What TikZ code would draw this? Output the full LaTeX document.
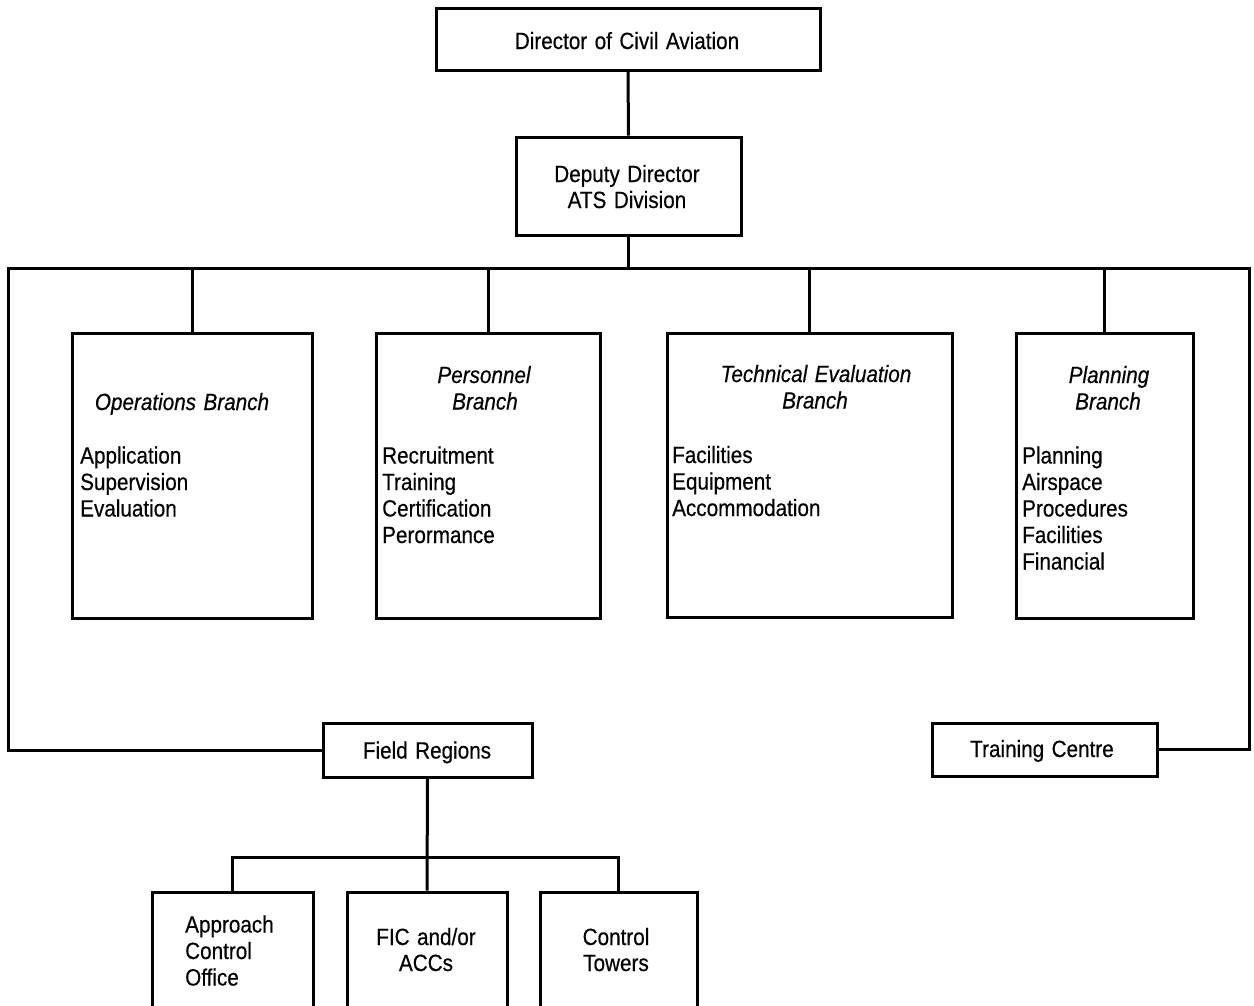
\documentclass[tikz,border=0pt]{standalone}
\usepackage{fontspec}
\setmainfont[FakeStretch=0.88, WordSpace=1.3, FakeBold=0.4]{Liberation Sans}
\begin{document}
\begin{tikzpicture}[x=1pt,y=-1pt,
  box/.style={draw, line width=3pt, rectangle, inner sep=0pt},
  lbl/.style={inner sep=0pt, font=\fontsize{23.5}{26}\selectfont},
  hd/.style={inner sep=0pt, font=\fontsize{23.5}{26}\selectfont\itshape},
  wire/.style={line width=3pt, line join=miter}]
\useasboundingbox (0,0) rectangle (1254,1005);
\clip (0,0) rectangle (1254,1005);

% boxes
\node[box, minimum width=384pt, minimum height=62pt] (dir) at (628,39) {};
\node[box, minimum width=225pt, minimum height=98pt] (dep) at (628.5,186) {};
\node[box, minimum width=240pt, minimum height=285pt] (ops) at (192,475.5) {};
\node[box, minimum width=224pt, minimum height=285pt] (pers) at (488,475.5) {};
\node[box, minimum width=285pt, minimum height=284pt] (tech) at (809.5,475) {};
\node[box, minimum width=177pt, minimum height=285pt] (plan) at (1104.5,475.5) {};
\node[box, minimum width=209pt, minimum height=54pt] (field) at (427.5,750) {};
\node[box, minimum width=225pt, minimum height=53pt] (train) at (1044.5,749.5) {};
\node[box, minimum width=161pt, minimum height=130pt] (appr) at (232.5,957) {};
\node[box, minimum width=160pt, minimum height=130pt] (fic) at (427,957) {};
\node[box, minimum width=157pt, minimum height=130pt] (ctrl) at (618.5,957) {};

% coordinates for buses
\coordinate (busL) at (8,268);
\coordinate (busR) at (1249,268);
\coordinate (fbus) at (427,857);

% connectors
\draw[wire] (dir.south) -- (dep.north);
\draw[wire] (dep.south) -- (dep.south |- busL);
\draw[wire] (field.west) -| (busL) -- (busR) |- (train.east);
\draw[wire] (ops.north) -- (ops.north |- busL);
\draw[wire] (pers.north) -- (pers.north |- busL);
\draw[wire] (tech.north) -- (tech.north |- busL);
\draw[wire] (plan.north) -- (plan.north |- busL);
\draw[wire] (field.south) -- (fic.north);
\draw[wire] (appr.north) |- (fbus) -| (ctrl.north);

% texts
\node[lbl, anchor=base] (dirt) at (627,49) {Director of Civil Aviation};
\node[lbl, anchor=base] (dept1) at (627,182) {Deputy Director};
\node[lbl, anchor=base] (dept2) at (627,208) {ATS Division};

\node[hd, anchor=base] (opsh) at (182,410) {Operations Branch};
\node[lbl, anchor=base west] (ops1) at (80,463.5) {Application};
\node[lbl, anchor=base west] (ops2) at (80,490) {Supervision};
\node[lbl, anchor=base west] (ops3) at (80,516.5) {Evaluation};

\node[hd, anchor=base] (persh1) at (484,383) {Personnel};
\node[hd, anchor=base] (persh2) at (485,409.5) {Branch};
\node[lbl, anchor=base west] (pers1) at (382,463.5) {Recruitment};
\node[lbl, anchor=base west] (pers2) at (382,490) {Training};
\node[lbl, anchor=base west] (pers3) at (382,516.5) {Certification};
\node[lbl, anchor=base west] (pers4) at (382,543) {Perormance};

\node[hd, anchor=base] (techh1) at (816,382) {Technical Evaluation};
\node[hd, anchor=base] (techh2) at (815,408.5) {Branch};
\node[lbl, anchor=base west] (tech1) at (672,463) {Facilities};
\node[lbl, anchor=base west] (tech2) at (672,489.5) {Equipment};
\node[lbl, anchor=base west] (tech3) at (672,516) {Accommodation};

\node[hd, anchor=base] (planh1) at (1109,383) {Planning};
\node[hd, anchor=base] (planh2) at (1108,409.5) {Branch};
\node[lbl, anchor=base west] (plan1) at (1022,463.5) {Planning};
\node[lbl, anchor=base west] (plan2) at (1022,490) {Airspace};
\node[lbl, anchor=base west] (plan3) at (1022,516.5) {Procedures};
\node[lbl, anchor=base west] (plan4) at (1022,543) {Facilities};
\node[lbl, anchor=base west] (plan5) at (1022,569.5) {Financial};

\node[lbl, anchor=base] (fieldt) at (427,758.5) {Field Regions};
\node[lbl, anchor=base] (traint) at (1042,757) {Training Centre};

\node[lbl, anchor=base west] (appr1) at (185,932.5) {Approach};
\node[lbl, anchor=base west] (appr2) at (185,959) {Control};
\node[lbl, anchor=base west] (appr3) at (185,985.5) {Office};

\node[lbl, anchor=base] (fic1) at (426,945) {FIC and/or};
\node[lbl, anchor=base] (fic2) at (426,971) {ACCs};

\node[lbl, anchor=base] (ctrl1) at (616,945) {Control};
\node[lbl, anchor=base] (ctrl2) at (616,971) {Towers};
\end{tikzpicture}
\end{document}
